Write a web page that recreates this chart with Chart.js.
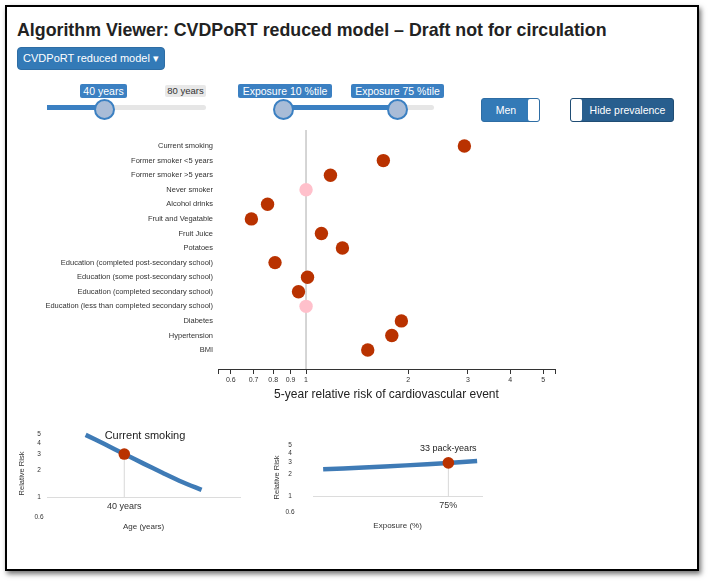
<!DOCTYPE html>
<html>
<head>
<meta charset="utf-8">
<script src="https://cdn.jsdelivr.net/npm/chart.js@4.4.1/dist/chart.umd.min.js"></script>
<style>
body{margin:0;background:#fff;font-family:"Liberation Sans",Arial,sans-serif;color:#333}
#page{position:relative;width:710px;height:583px;overflow:hidden}
#frame{position:absolute;left:5px;top:5px;width:690px;height:562px;border:2px solid #000;box-shadow:2px 3px 5px rgba(0,0,0,.55)}
h1{position:absolute;left:17px;top:20px;margin:0;font-size:17.8px;font-weight:bold;color:#222;white-space:nowrap}
.btn{position:absolute;left:17px;top:47px;width:148px;height:23px;box-sizing:border-box;background:#337ab7;border:1px solid #2e6da4;border-radius:4px;color:#fff;font-size:11px;line-height:21px;text-align:center}
.track{position:absolute;height:5px;top:105px;background:#e6e6e6;border-radius:3px}
.fill{position:absolute;height:5px;top:105px;background:#3b80c2}
.handle{position:absolute;width:17px;height:17px;top:99px;margin-left:-10px;border:2px solid #3b80c2;border-radius:50%;background:#a9bcd7}
.tag{position:absolute;top:84px;height:14px;line-height:14px;background:#3b80c2;color:#fff;font-size:10.5px;text-align:center;border-radius:2px;white-space:nowrap}
.tag.grey{background:#e8e8e8;color:#333;font-size:9.5px;top:85px;height:12px;line-height:12px}
.toggle{position:absolute;top:98px;height:24px;box-sizing:border-box;border:1px solid #2e6da4;border-radius:3px;color:#fff;font-size:10.5px;line-height:22px}
.knob{position:absolute;top:0;width:11px;height:22px;background:#fff;border-radius:2px}
canvas{position:absolute}
.note{position:absolute;font-size:11px;color:#222;white-space:nowrap;transform:translate(-50%,-50%)}
</style>
</head>
<body>
<div id="page">
  <div id="frame"></div>
  <h1>Algorithm Viewer: CVDPoRT reduced model – Draft not for circulation</h1>
  <div class="btn">CVDPoRT reduced model &#9662;</div>

  <div class="track" style="left:47px;width:159px"></div>
  <div class="fill" style="left:47px;width:57px"></div>
  <div class="handle" style="left:104px"></div>
  <div class="tag" style="left:80px;width:47px">40 years</div>
  <div class="tag grey" style="left:165px;width:41px">80 years</div>

  <div class="track" style="left:277px;width:157px"></div>
  <div class="fill" style="left:283px;width:114px"></div>
  <div class="handle" style="left:283px"></div>
  <div class="handle" style="left:397px"></div>
  <div class="tag" style="left:238px;width:94px">Exposure 10 %tile</div>
  <div class="tag" style="left:351px;width:93px">Exposure 75 %tile</div>

  <div class="toggle" style="left:481px;width:59px;background:#337ab7">
    <span style="position:absolute;left:0;width:48px;text-align:center">Men</span>
    <div class="knob" style="right:0"></div>
  </div>
  <div class="toggle" style="left:570px;width:104px;background:#285e8e;border-color:#204d74">
    <div class="knob" style="left:0"></div>
    <span style="position:absolute;left:11px;right:0;text-align:center">Hide prevalence</span>
  </div>

  <canvas id="main" style="left:0;top:120px;width:580px;height:290px" width="580" height="290"></canvas>
  <canvas id="age" style="left:12px;top:420px;width:234px;height:115px" width="234" height="115"></canvas>
  <canvas id="exposure" style="left:267px;top:420px;width:221px;height:115px" width="221" height="115"></canvas>
  <div class="note" style="left:145px;top:435px">Current smoking</div>
</div>
<script>
// main forest plot
const riskFactors = [
  'Current smoking',
  'Former smoker <5 years',
  'Former smoker >5 years',
  'Never smoker',
  'Alcohol drinks',
  'Fruit and Vegatable',
  'Fruit Juice',
  'Potatoes',
  'Education (completed post-secondary school)',
  'Education (some post-secondary school)',
  'Education (completed secondary school)',
  'Education (less than completed secondary school)',
  'Diabetes',
  'Hypertension',
  'BMI'
];
const relativeRisk = [2.93, 1.69, 1.18, 1.0, 0.77, 0.69, 1.11, 1.28, 0.81, 1.01, 0.95, 1.0, 1.91, 1.79, 1.52];
const referenceLevels = ['Never smoker', 'Education (less than completed secondary school)'];
const riskTicks = [0.6, 0.7, 0.8, 0.9, 1, 2, 3, 4, 5];

// small plots
const smokingAges = [20, 30, 40, 50, 60, 70, 80];
const smokingAgeRisk = [4.9, 3.85, 3.0, 2.35, 1.85, 1.47, 1.2];
const currentAge = 40;
const currentAgeRisk = 3.0;
const exposurePct = [1, 25, 50, 75, 92];
const exposureRisk = [2.37, 2.5, 2.68, 2.9, 3.08];
const currentExposure = 75;
const currentExposureRisk = 2.9;
const packYears = 33;
const smallTicks = [0.6, 1, 2, 3, 4, 5];

const RED = '#b93200';
const BLUE = '#3f7bb6';
Chart.defaults.font.family = '"Liberation Sans", Arial, sans-serif';
Chart.defaults.animation = false;

new Chart(document.getElementById('main'), {
  type: 'scatter',
  data: {
    datasets: [{
      data: riskFactors.map((f, i) => ({x: relativeRisk[i], y: i})),
      backgroundColor: riskFactors.map(f => referenceLevels.includes(f) ? '#ffc0cb' : RED),
      borderWidth: 0,
      pointRadius: 6.7,
      order: 1
    }, {
      type: 'line',
      data: [{x: 1, y: -1.3}, {x: 1, y: 15.3}],
      borderColor: '#cfcfcf',
      borderWidth: 1,
      pointRadius: 0,
      order: 2
    }]
  },
  options: {
    responsive: false,
    layout: {padding: {top: 10, right: 25, bottom: 8.5, left: 0}},
    plugins: {legend: {display: false}, tooltip: {enabled: false}},
    scales: {
      x: {
        type: 'logarithmic',
        min: 0.55,
        max: 5.42,
        afterBuildTicks: s => { s.ticks = [s.min].concat(riskTicks, [s.max]).map(v => ({value: v})); },
        afterFit: s => { s.height = 32.5; },
        ticks: {
          autoSkip: false, maxRotation: 0, padding: 2, color: '#333', font: {size: 7},
          callback: v => riskTicks.includes(v) ? String(v) : ''
        },
        grid: {drawOnChartArea: false, tickLength: 5, color: '#333'},
        border: {color: '#333'},
        title: {display: true, text: '5-year relative risk of cardiovascular event', color: '#222', font: {size: 12}, padding: 0}
      },
      y: {
        type: 'linear',
        reverse: true,
        min: -1.1,
        max: 15.3,
        afterBuildTicks: s => { s.ticks = riskFactors.map((f, i) => ({value: i})); },
        afterFit: s => { s.width = 218; },
        ticks: {autoSkip: false, padding: 5, color: '#333', font: {size: 7.5}, callback: v => riskFactors[v]},
        grid: {display: false, drawTicks: false},
        border: {display: false}
      }
    }
  }
});

// writes the label just above the marker point
const markerLabel = {
  id: 'markerLabel',
  afterDatasetsDraw(chart, args, opts) {
    if (!opts.text) return;
    const pt = chart.getDatasetMeta(0).data[0];
    const ctx = chart.ctx;
    ctx.save();
    ctx.font = '9px "Liberation Sans", Arial, sans-serif';
    ctx.fillStyle = '#222';
    ctx.textAlign = 'center';
    ctx.textBaseline = 'middle';
    ctx.fillText(opts.text, pt.x, pt.y - 14);
    ctx.restore();
  }
};

function smallChart(id, xs, ys, markX, markY, xMin, xMax, tickText, xTitle, yWidth, yPad, label) {
  return new Chart(document.getElementById(id), {
    type: 'scatter',
    data: {
      datasets: [{
        data: [{x: markX, y: markY}],
        backgroundColor: RED,
        borderWidth: 0,
        pointRadius: 5.8,
        order: 1
      }, {
        type: 'line',
        data: xs.map((x, i) => ({x: x, y: ys[i]})),
        borderColor: BLUE,
        borderWidth: 4.5,
        pointRadius: 0,
        tension: 0.3,
        order: 2
      }, {
        type: 'line',
        data: [{x: markX, y: 1}, {x: markX, y: markY}],
        borderColor: '#d8d8d8',
        borderWidth: 1,
        pointRadius: 0,
        order: 3
      }]
    },
    options: {
      responsive: false,
      layout: {padding: {top: 10, right: 5, bottom: 18, left: 5}},
      plugins: {legend: {display: false}, tooltip: {enabled: false}, markerLabel: {text: label}},
      scales: {
        x: {
          type: 'linear',
          min: xMin,
          max: xMax,
          position: {y: 1},
          afterBuildTicks: s => { s.ticks = [{value: markX}]; },
          afterFit: s => { s.height = 34.5; },
          ticks: {padding: 4, color: '#333', font: {size: 9}, callback: () => tickText},
          grid: {display: false, drawTicks: false},
          border: {color: '#dcdcdc'},
          title: {display: true, text: xTitle, color: '#333', font: {size: 8}, padding: 0}
        },
        y: {
          type: 'logarithmic',
          min: 0.6,
          max: 5.55,
          afterBuildTicks: s => { s.ticks = smallTicks.map(v => ({value: v})); },
          afterFit: s => { s.width = yWidth; },
          ticks: {crossAlign: 'center', padding: yPad, color: '#333', font: {size: 6.5}, callback: v => String(v)},
          grid: {display: false, drawTicks: false},
          border: {display: false},
          title: {display: true, text: 'Relative Risk', color: '#333', font: {size: 7.5}, padding: 0}
        }
      }
    },
    plugins: [markerLabel]
  });
}

smallChart('age', smokingAges, smokingAgeRisk, currentAge, currentAgeRisk, 0, 100,
  currentAge + ' years', 'Age (years)', 30, 3.5, '');
smallChart('exposure', exposurePct, exposureRisk, currentExposure, currentExposureRisk, -5, 95,
  currentExposure + '%', 'Exposure (%)', 41, 18.5, packYears + ' pack-years');
</script>
</body>
</html>
